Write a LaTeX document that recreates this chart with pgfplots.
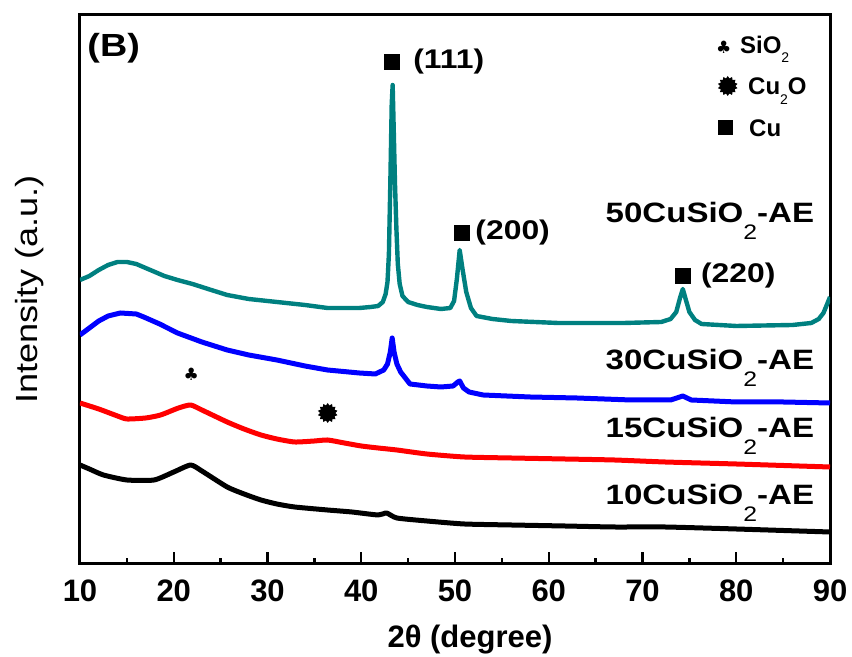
\documentclass[border=0pt]{standalone}
\usepackage{pgfplots}
\pgfplotsset{compat=1.18}
\usepackage{fontspec}
\setmainfont{Liberation Sans}
\newfontfamily\widefont[FakeStretch=1.18]{Liberation Sans}
\newfontfamily\symfont{DejaVu Sans}
\usetikzlibrary{shapes.geometric}
\definecolor{tealc}{RGB}{0,128,128}
\newcommand{\samp}[1]{{\widefont\bfseries\fontsize{14}{14}\selectfont #1CuSiO\raisebox{-8.5pt}{\mdseries\fontsize{10.5}{11}\selectfont 2}-AE}}
\newcommand{\pk}[1]{{\widefont\bfseries\fontsize{13.5}{14}\selectfont #1}}
\begin{document}
\begin{tikzpicture}
\begin{axis}[
  scale only axis, width=375pt, height=274.5pt,
  xmin=10, xmax=90, ymin=0, ymax=549,
  xtick={10,20,...,90}, minor x tick num=1,
  ytick=\empty, xtick pos=bottom,
  tick align=inside, major tick length=6pt, minor tick length=3pt,
  tick style={line width=1.2pt, black},
  axis line style={line width=1.5pt},
  /pgf/number format/assume math mode=true,
  xticklabel style={font=\bfseries\fontsize{15.5}{16}\selectfont, anchor=base, yshift=-18.75pt},
  xlabel={2θ (degree)},
  xlabel style={font=\bfseries\fontsize{15.5}{16}\selectfont, at={(axis description cs:0.52,-0.153)}, anchor=base},
  ylabel={Intensity (a.u.)},
  ylabel style={font=\widefont\fontsize{15.3}{16}\selectfont, at={(axis description cs:-0.0573,0.5)}, anchor=base},
  every axis plot/.append style={line width=2.5pt, line join=round},
]
% 50CuSiO2-AE
\addplot[tealc, line width=2.2pt] coordinates {
(10,284) (11,288) (12,294) (13,299) (14,302) (15,302) (16,300) (17,296) (18,292) (19,288)
(20.4,284) (22,280) (24,274) (25.7,269) (28,265) (31,262) (34,259) (36.4,256) (38,256) (39.8,256)
(41,257) (41.8,258) (42.3,262) (42.6,270) (42.8,282) (42.95,310) (43.1,380) (43.25,460) (43.35,479)
(43.45,440) (43.6,380) (43.75,335) (43.9,300) (44.1,280) (44.4,268) (45,262) (46,259) (47,257)
(48.5,255) (49.5,256) (49.9,263) (50.2,285) (50.5,314) (50.8,295) (51.2,272) (51.7,256) (52.3,248)
(54,245) (56,243) (61,241) (68,241) (72,242) (73,245) (73.6,252) (74,266) (74.3,275) (74.6,265)
(75,252) (75.6,244) (76.3,240) (80,238) (86,239) (88,241) (88.8,245) (89.3,251) (89.7,260) (90,267)
};
% 30CuSiO2-AE
\addplot[blue] coordinates {
(10,229) (11,236) (12,243) (13,248) (14.3,251) (16,250) (16.8,247) (18.5,240) (20.4,231) (23,222)
(25.7,214) (28,209) (31,204) (34,198) (36.4,194) (39.8,191) (41.5,190) (42.4,194) (42.8,200)
(43.1,212) (43.3,226) (43.5,212) (43.8,200) (44.2,192) (45.2,180) (47,178) (48.5,177) (49.8,178)
(50.3,182) (50.5,183) (50.9,176) (51.5,172) (53,169) (58,167) (63,166) (68.8,164) (73,164)
(74.3,168) (75.2,164) (80,162) (85,162) (90,161)
};
% 15CuSiO2-AE
\addplot[red, smooth, tension=0.35] coordinates {
(10,161) (12,155) (14,148) (15,145) (17,146) (18.6,149) (20.5,156) (21.8,159) (23,154) (25.7,142)
(27.5,135) (29.3,129) (31,125) (32.9,122) (35,123) (36.4,124) (38.2,121) (40,118) (41.8,116)
(43.8,114) (47,110) (51,107) (56,106) (61.7,105) (67,104) (72.4,102) (80,100) (90,97)
};
% 10CuSiO2-AE
\addplot[black, smooth, tension=0.35] coordinates {
(10,99) (11,95) (12.5,89) (15,84) (17.9,84) (20,92) (21.8,99) (23,93) (25.7,77) (27.5,70)
(29.3,64) (31,60) (32.9,57) (36.4,54) (39,52) (41.8,49) (42.7,51) (43.8,46) (47,43) (51,40)
(56,39) (61.7,38) (67,37) (72.4,37) (80,35) (90,32)
};
% panel letter
\node[anchor=west, inner sep=0] at (axis cs:10.75,516) {\widefont\bfseries\fontsize{16}{16}\selectfont (B)};
% sample labels
\node[anchor=base east, inner sep=0] at (axis cs:88.35,341) {\samp{50}};
\node[anchor=base east, inner sep=0] at (axis cs:88.35,194) {\samp{30}};
\node[anchor=base east, inner sep=0] at (axis cs:88.35,126) {\samp{15}};
\node[anchor=base east, inner sep=0] at (axis cs:88.35,59) {\samp{10}};
% peak labels
\node[fill=black, minimum size=8pt, inner sep=0] at (axis cs:43.33,502) {};
\node[anchor=west, inner sep=0] at (axis cs:45.51,502) {\pk{(111)}};
\node[fill=black, minimum size=8pt, inner sep=0] at (axis cs:50.75,331) {};
\node[anchor=west, inner sep=0] at (axis cs:52.14,331) {\pk{(200)}};
\node[fill=black, minimum size=8pt, inner sep=0] at (axis cs:74.28,288) {};
\node[anchor=west, inner sep=0] at (axis cs:76.2,288) {\pk{(220)}};
% phase markers on curves
\node[inner sep=0] at (axis cs:21.87,190) {\symfont\fontsize{8.5}{9}\selectfont ♣};
\node[star, star points=14, star point ratio=1.3, fill=black, minimum size=10pt, inner sep=0] at (axis cs:36.42,151) {};
% legend
\node[inner sep=0] at (axis cs:78.66,517) {\symfont\fontsize{8.5}{9}\selectfont ♣};
\node[anchor=base west, inner sep=0] at (axis cs:80.37,510.5) {\bfseries\fontsize{12}{12}\selectfont SiO\raisebox{-4.75pt}{\mdseries\fontsize{7}{7}\selectfont 2}};
\node[star, star points=14, star point ratio=1.3, fill=black, minimum size=10pt, inner sep=0] at (axis cs:79.09,478) {};
\node[anchor=base west, inner sep=0] at (axis cs:81.23,469.5) {\bfseries\fontsize{12}{12}\selectfont Cu\raisebox{-5.25pt}{\mdseries\fontsize{7}{7}\selectfont 2}O};
\node[fill=black, minimum size=7.5pt, inner sep=0] at (axis cs:78.88,436) {};
\node[anchor=base west, inner sep=0] at (axis cs:81.34,427.5) {\bfseries\fontsize{12}{12}\selectfont Cu};
\end{axis}
\pgfresetboundingbox
\path[use as bounding box] ([shift={(-40pt,-46.5pt)}]current axis.south west) rectangle ([shift={(11pt,7.5pt)}]current axis.north east);
\end{tikzpicture}
\end{document}
